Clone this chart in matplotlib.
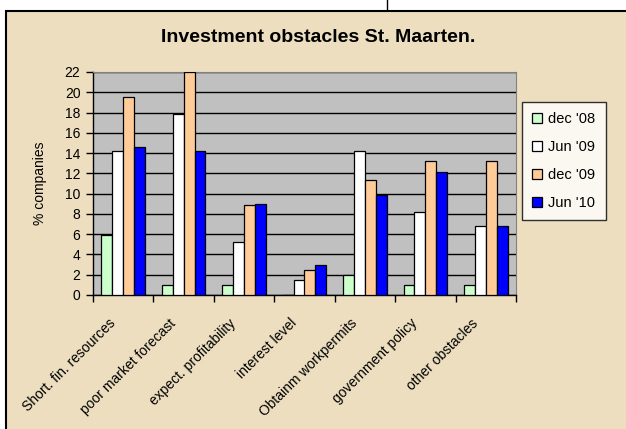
import numpy as np
import matplotlib
matplotlib.use("Agg")
import matplotlib.pyplot as plt
from matplotlib.patches import Rectangle
from matplotlib.lines import Line2D
from matplotlib.transforms import offset_copy

plt.rcParams['font.family'] = ['Liberation Sans', 'DejaVu Sans']

categories = ["Short. fin. resources", "poor market forecast", "expect. profitability",
              "interest level", "Obtainm workpermits", "government policy", "other obstacles"]
series = ["dec '08", "Jun '09", "dec '09", "Jun '10"]
dec08 = [5.9, 1.0, 1.0, 0.0, 2.0, 1.0, 1.0]
jun09 = [14.2, 17.9, 5.2, 1.5, 14.2, 8.2, 6.8]
dec09 = [19.5, 22.0, 8.9, 2.5, 11.3, 13.2, 13.2]
jun10 = [14.6, 14.2, 9.0, 3.0, 9.9, 12.1, 6.8]
yticks = list(range(0, 23, 2))

colors = ["#CCFFCC", "#FFFFFF", "#FFCC99", "#0000FF"]
values = [dec08, jun09, dec09, jun10]

fig = plt.figure(figsize=(6.26, 4.29), dpi=100)
fig.patch.set_facecolor("white")
# beige chart panel, border visible only on top and left
fig.patches.append(Rectangle((6 / 626, -0.1), 1.2, 1.1 - 11 / 429, transform=fig.transFigure,
                             facecolor="#ECDEBF", edgecolor="black", linewidth=1.5, zorder=-5))
fig.lines.append(Line2D([387 / 626, 387 / 626], [1.0, 1 - 9 / 429], transform=fig.transFigure,
                        color="black", linewidth=1, zorder=-5))

ax = fig.add_axes([93 / 626, 134 / 429, 423 / 626, 223 / 429])
ax.set_facecolor("#C0C0C0")

x = np.arange(len(categories)) + 0.5
w = 0.18
for i, (name, vals) in enumerate(zip(series, values)):
    ax.bar(x + (i - 1.5) * w, vals, width=w, color=colors[i], edgecolor="black",
           linewidth=0.9, label=name, zorder=3)

ax.set_xlim(0, len(categories))
ax.set_ylim(0, 22)
ax.set_yticks(yticks)
ax.set_xticks(np.arange(len(categories) + 1))
ax.set_xticklabels([])
ax.tick_params(axis="both", direction="out", length=5, width=1, labelsize=10,
               colors="black", pad=4)
ax.yaxis.grid(True, color="black", linewidth=1, zorder=1)
ax.set_axisbelow(True)
for s in ["top", "right"]:
    ax.spines[s].set_color("#808080")
for s in ["left", "bottom"]:
    ax.spines[s].set_linewidth(1)

# category labels, rotated, ending just left of each group centre
lab_tr = offset_copy(ax.get_xaxis_transform(), fig=fig, x=-10, y=-26, units="dots")
for xi, lab in zip(x, categories):
    ax.text(xi, 0, lab, transform=lab_tr, rotation=45, ha="right", va="center",
            rotation_mode="anchor", fontsize=10)

ax.set_ylabel("% companies", fontsize=10, labelpad=13)
fig.text(318 / 626, 1 - 37 / 429, "Investment obstacles St. Maarten.", ha="center",
         va="center", fontsize=14, fontweight="bold")

leg = ax.legend(loc="upper left", bbox_to_anchor=(522 / 626, 1 - 102 / 429),
                bbox_transform=fig.transFigure, frameon=True, fancybox=False,
                edgecolor="black", fontsize=10.5, labelspacing=0.95, handlelength=0.7,
                handleheight=0.7, handletextpad=0.4, borderpad=0.7, borderaxespad=0)
leg.get_frame().set_linewidth(1)

fig.savefig("out.png", dpi=100)
